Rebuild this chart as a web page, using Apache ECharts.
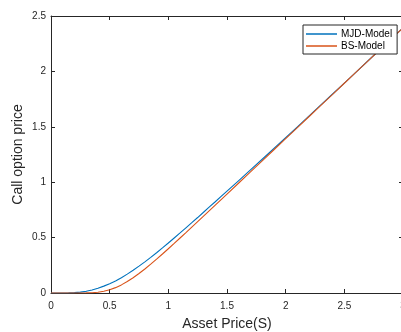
<!DOCTYPE html>
<html>
<head>
<meta charset="utf-8">
<script src="https://cdn.jsdelivr.net/npm/echarts@6/dist/echarts.min.js"></script>
<style>
html,body{margin:0;padding:0;background:#fff;}
#chart{width:401px;height:332px;}
</style>
</head>
<body>
<div id="chart"></div>
<script>
const assetPrice = [0,0.05,0.1,0.15,0.2,0.25,0.3,0.35,0.4,0.45,0.5,0.55,0.6,0.65,0.7,0.75,0.8,0.85,0.9,0.95,1.0,1.05,1.1,1.15,1.2,1.25,1.3,1.35,1.4,1.45,1.5,1.6,1.7,1.8,1.9,2.0,2.1,2.2,2.3,2.4,2.5,2.6,2.7,2.8,2.9,3.0];
const mjdModel = [0,0,0.0002,0.001,0.003,0.0075,0.015,0.027,0.043,0.062,0.084,0.1085,0.138,0.1705,0.2055,0.2425,0.2812,0.3215,0.3635,0.407,0.4513,0.4965,0.5422,0.5883,0.6346,0.6811,0.7288,0.7766,0.8234,0.8713,0.9192,1.015,1.111,1.207,1.304,1.401,1.499,1.598,1.697,1.796,1.895,1.994,2.094,2.193,2.293,2.393];
const bsModel = [0,0,0,0,0,0.0001,0.0007,0.0025,0.007,0.0156,0.0292,0.0484,0.0733,0.1031,0.1376,0.1757,0.2167,0.2602,0.3053,0.3519,0.3993,0.4475,0.4962,0.5453,0.5946,0.6441,0.6938,0.7436,0.7934,0.8433,0.8932,0.993,1.093,1.193,1.293,1.393,1.493,1.593,1.693,1.793,1.893,1.993,2.093,2.193,2.293,2.393];
const seriesNames = ['MJD-Model','BS-Model'];
const xTitle = 'Asset Price(S)';
const yTitle = 'Call option price';

const FONT = "'Liberation Sans', Arial, Helvetica, sans-serif";
const AX = '#262626';
const chart = echarts.init(document.getElementById('chart'), null, {renderer:'canvas'});

const pairs = (ys) => assetPrice.map((x,i)=>[x, ys[i]]);

const baseAxis = () => ({
  axisLine:{show:true, onZero:false, lineStyle:{color:AX, width:1}},
  axisTick:{show:true, inside:true, length:4, lineStyle:{color:AX}},
  splitLine:{show:false},
});

chart.setOption({
  animation:false,
  backgroundColor:'#fff',
  textStyle:{fontFamily:FONT},
  grid:{left:51, top:16, right:-2, bottom:39, containLabel:false, outerBoundsMode:'none'},
  legend:{
    data:seriesNames,
    orient:'vertical',
    left:303, top:25,
    icon:'rect', itemWidth:31, itemHeight:1.5, itemGap:2,
    padding:[4,5,3,3],
    borderColor:AX, borderWidth:1, backgroundColor:'#fff',
    textStyle:{fontFamily:FONT, fontSize:10, color:'#000', padding:[0,0,0,-1]}
  },
  xAxis:[
    Object.assign(baseAxis(), {
      type:'value', min:0, max:3, interval:0.5, position:'bottom',
      name:xTitle, nameLocation:'middle', nameGap:24, nameMoveOverlap:false,
      nameTextStyle:{fontFamily:FONT, fontSize:14, color:AX},
      axisLabel:{show:true, margin:8, color:AX, fontSize:10, fontFamily:FONT, showMinLabel:true, showMaxLabel:true}
    }),
    Object.assign(baseAxis(), {
      type:'value', min:0, max:3, interval:0.5, position:'top',
      axisLabel:{show:false}
    })
  ],
  yAxis:[
    Object.assign(baseAxis(), {
      type:'value', min:0, max:2.5, interval:0.5, position:'left',
      name:yTitle, nameLocation:'middle', nameGap:26, nameMoveOverlap:false,
      nameTextStyle:{fontFamily:FONT, fontSize:14, color:AX},
      axisLabel:{show:true, margin:5, color:AX, fontSize:10, fontFamily:FONT, showMinLabel:true, showMaxLabel:true}
    }),
    Object.assign(baseAxis(), {
      type:'value', min:0, max:2.5, interval:0.5, position:'right',
      axisLabel:{show:false}
    })
  ],
  series:[
    {name:seriesNames[0], type:'line', data:pairs(mjdModel), showSymbol:false, symbol:'none',
     lineStyle:{color:'#0072BD', width:1.1}, itemStyle:{color:'#0072BD'}, xAxisIndex:0, yAxisIndex:0},
    {name:seriesNames[1], type:'line', data:pairs(bsModel), showSymbol:false, symbol:'none',
     lineStyle:{color:'#D95319', width:1.1}, itemStyle:{color:'#D95319'}, xAxisIndex:0, yAxisIndex:0}
  ]
});
</script>
</body>
</html>
